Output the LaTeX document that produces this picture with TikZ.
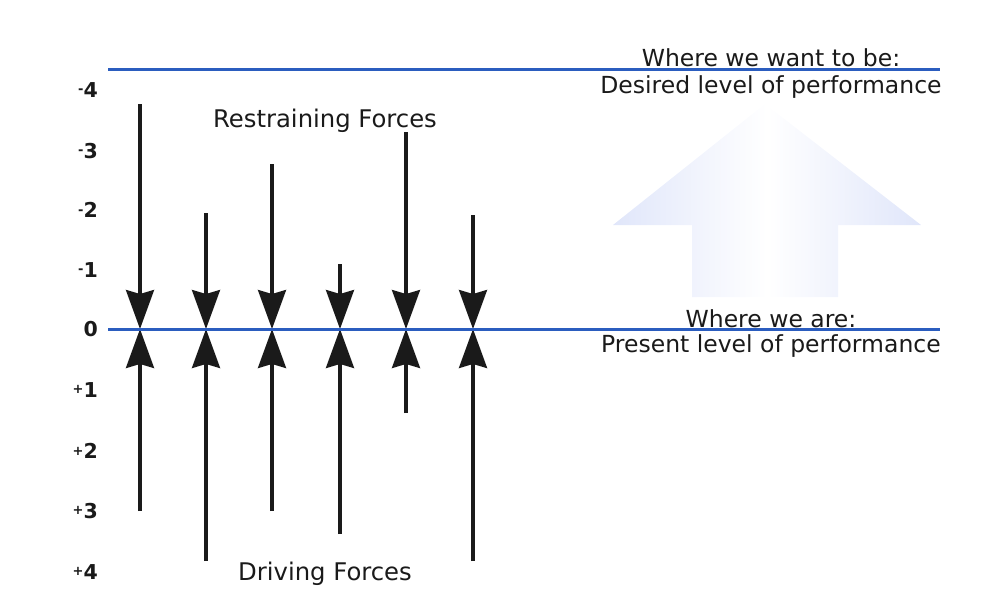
\documentclass[tikz,border=0pt]{standalone}
\usepackage{fontspec}
\setmainfont{DejaVu Sans}
\usetikzlibrary{arrows.meta}
\definecolor{levelblue}{HTML}{2B5DBF}
\definecolor{arrowlav}{HTML}{E0E6FA}
\definecolor{ink}{HTML}{1A1A1A}
% small sign in front of the scale digits
\newcommand\scalesign[1]{\raisebox{3.5pt}{\fontsize{13}{13}\selectfont #1}}
\begin{document}
\begin{tikzpicture}[x=1pt,y=-1pt,
  force/.style={line width=3.2pt, draw=ink,
    -{Stealth[length=39pt,width=28pt,inset=4pt]}},
  level/.style={line width=3pt, draw=levelblue},
  scale label/.style={font=\fontsize{20.5}{20.5}\selectfont\bfseries, text=ink,
    anchor=east, inner sep=0pt},
  caption/.style={font=\fontsize{23.5}{27}\selectfont, text=ink,
    inner sep=0pt, anchor=base}]

\useasboundingbox (0,0) rectangle (991,613);

% large pale arrow pointing from present to desired level
\shade[left color=arrowlav, right color=arrowlav, middle color=white]
  (765,104) -- (921,225) -- (838,225) -- (838,297) -- (692,297)
  -- (692,225) -- (613,225) -- cycle;

% force arrows: restraining from above, driving from below
\foreach \i/\x/\top/\bot in {1/140/104/511, 2/206/213/561, 3/272/164/511,
                             4/340/264/534, 5/406/132/413, 6/473/215/561} {
  \coordinate (z\i) at (\x,329);
  \coordinate (r\i) at (\x,\top);
  \coordinate (d\i) at (\x,\bot);
  \draw[force] (r\i) -- (z\i);
  \draw[force] (d\i) -- (z\i);
}

% performance levels
\coordinate (want-l) at (108,69);
\coordinate (want-r) at (940,69);
\coordinate (now-l) at (108,329);
\coordinate (now-r) at (940,329);
\draw[level] (want-l) -- (want-r);
\draw[level] (now-l) -- (now-r);

% scale
\node[scale label] (sm4) at (98,90)  {\scalesign{-}4};
\node[scale label] (sm3) at (98,151) {\scalesign{-}3};
\node[scale label] (sm2) at (98,210) {\scalesign{-}2};
\node[scale label] (sm1) at (98,270) {\scalesign{-}1};
\node[scale label] (s0)  at (98,329) {0};
\node[scale label] (sp1) at (98,390) {\scalesign{+}1};
\node[scale label] (sp2) at (98,451) {\scalesign{+}2};
\node[scale label] (sp3) at (98,511) {\scalesign{+}3};
\node[scale label] (sp4) at (98,572) {\scalesign{+}4};

% captions
\node[caption, font=\fontsize{24.3}{27}\selectfont] (restrain) at (325,127) {Restraining Forces};
\node[caption, font=\fontsize{24.3}{27}\selectfont] (drive)    at (325,580) {Driving Forces};
\node[caption] (want1) at (771,66) {Where we want to be:};
\node[caption] (want2) at (771,93) {Desired level of performance};
\node[caption] (now1)  at (771,327) {Where we are:};
\node[caption] (now2)  at (771,352) {Present level of performance};
\end{tikzpicture}
\end{document}
